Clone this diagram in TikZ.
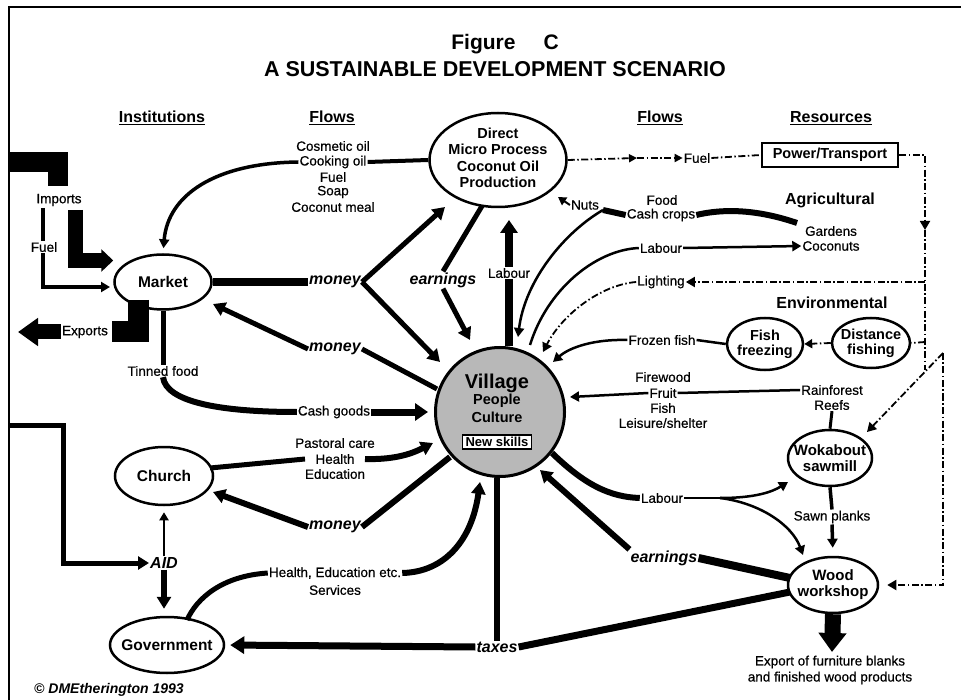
\documentclass[tikz,border=0pt]{standalone}
\usepackage{fontspec}
\setmainfont{Liberation Sans}
\newfontfamily\semib{Liberation Sans}[FakeBold=0.5]
\usetikzlibrary{arrows.meta,shapes.geometric}
\begin{document}
\begin{tikzpicture}[x=1pt,y=-1pt,
 every node/.style={inner sep=1pt},
 flow/.style={font=\semib\fontsize{13.5}{15.5}\selectfont, align=center},
 hd/.style={font=\bfseries\fontsize{16}{18}\selectfont},
 nd/.style={draw, ellipse, line width=2.5pt, inner sep=0pt},
 nt/.style={font=\bfseries\fontsize{15.5}{16.5}\selectfont, align=center},
 itl/.style={font=\bfseries\itshape\fontsize{16}{18}\selectfont},
 tS/.style={-{Triangle[length=9pt,width=10pt]}},
 tM/.style={-{Triangle[length=12pt,width=14pt]}},
 dd/.style={line width=1.8pt, dash pattern=on 7pt off 2.5pt on 1.5pt off 2.5pt}
]
\useasboundingbox (0,0) rectangle (961,700);
\fill[white] (0,0) rectangle (961,700);
\draw[line width=2.5pt] (9,700) -- (9,7) -- (961,7);

% ---------- titles and headings
\node[font=\bfseries\fontsize{21}{24}\selectfont] (t1) at (505,44) {Figure\hspace{28pt}C};
\node[font=\bfseries\fontsize{21.5}{24}\selectfont] (t2) at (495,69) {A SUSTAINABLE DEVELOPMENT SCENARIO};
\node[hd] (hInst) at (162,118) {\underline{Institutions}};
\node[hd] (hFl1) at (332,118) {\underline{Flows}};
\node[hd] (hFl2) at (660,118) {\underline{Flows}};
\node[hd] (hRes) at (831,118) {\underline{Resources}};
\node[hd] (agri) at (830,200) {Agricultural};
\node[hd] (env) at (832,303) {Environmental};

% ---------- ellipse nodes
\node[nd, minimum width=97, minimum height=55] (market) at (163,282) {};
\node[nt] (marketT) at (163,282) {Market};
\node[nd, minimum width=137, minimum height=94] (direct) at (498,160) {};
\node[nt, font=\bfseries\fontsize{14.5}{16.5}\selectfont] (directT) at (498,158) {Direct\\Micro Process\\Coconut Oil\\Production};
\node[nd, minimum width=98, minimum height=58] (church) at (164,476) {};
\node[nt] (churchT) at (164,476) {Church};
\node[nd, minimum width=114, minimum height=56] (gov) at (167,645) {};
\node[nt] (govT) at (167,645) {Government};
\node[nd, minimum width=76, minimum height=52] (fishfr) at (765,344) {};
\node[nt, font=\bfseries\fontsize{14.5}{15}\selectfont] (fishfrT) at (765,344) {Fish\\freezing};
\node[nd, minimum width=78, minimum height=50] (distf) at (871,343) {};
\node[nt, font=\bfseries\fontsize{14.5}{15}\selectfont] (distfT) at (871,343) {Distance\\fishing};
\node[nd, minimum width=84, minimum height=56] (wok) at (830,458) {};
\node[nt, font=\bfseries\fontsize{15}{16}\selectfont] (wokT) at (830,458) {Wokabout\\sawmill};
\node[nd, minimum width=90, minimum height=56] (wood) at (833,585) {};
\node[nt, font=\bfseries\fontsize{15}{16}\selectfont] (woodT) at (833,585) {Wood\\workshop};
\node[draw, line width=2.5pt, minimum width=136, minimum height=24, font=\bfseries\fontsize{14.5}{15}\selectfont] (power) at (830,155) {Power/Transport};

% ---------- village
\node[circle, draw, line width=3pt, fill=black!28, minimum size=129, inner sep=0pt] (village) at (500,412) {};
\node[font=\bfseries\fontsize{20}{21}\selectfont] (vT) at (497,383) {Village};
\node[font=\bfseries\fontsize{14.5}{15}\selectfont] (vP) at (497,401) {People};
\node[font=\bfseries\fontsize{14.5}{15}\selectfont] (vC) at (497,417) {Culture};
\node[draw, line width=1.5pt, fill=white, font=\bfseries\fontsize{13}{14}\selectfont, inner xsep=3pt, inner ysep=2pt] (vN) at (497,442) {New skills};

% ---------- flow labels
\node[flow] (cosm) at (333,146) {Cosmetic oil};
\node[flow] (cook) at (333,162) {Cooking oil};
\node[flow] (fuelA) at (333,177) {Fuel};
\node[flow] (soap) at (333,192) {Soap};
\node[flow] (meal) at (333,207) {Coconut meal};
\node[flow] (imports) at (59,200) {Imports};
\node[flow] (fuelL) at (44,247) {Fuel};
\node[flow] (exports) at (85,332) {Exports};
\node[flow] (tinned) at (163,371) {Tinned food};
\node[flow] (cash) at (334,412) {Cash goods};
\node[flow] (pastoral) at (335,443) {Pastoral care};
\node[flow] (health) at (335,459) {Health};
\node[flow] (educ) at (335,474) {Education};
\node[flow] (hes) at (335,573) {Health, Education etc.};
\node[flow] (serv) at (335,590) {Services};
\node[flow] (labourC) at (509,273) {Labour};
\node[flow] (nuts) at (585,205) {Nuts};
\node[flow] (food) at (662,200) {Food};
\node[flow] (cashcr) at (661,215) {Cash crops};
\node[flow] (labourR) at (661,248) {Labour};
\node[flow] (lighting) at (661,282) {Lighting};
\node[flow] (frozen) at (662,340) {Frozen fish};
\node[flow] (firewood) at (663,377) {Firewood};
\node[flow] (fruit) at (663,393) {Fruit};
\node[flow] (fish) at (663,408) {Fish};
\node[flow] (leisure) at (663,423) {Leisure/shelter};
\node[flow] (fuelR) at (697,158) {Fuel};
\node[flow] (gardens) at (831,231) {Gardens};
\node[flow] (coconuts) at (831,246) {Coconuts};
\node[flow] (rainf) at (832,390) {Rainforest};
\node[flow] (reefs) at (832,405) {Reefs};
\node[flow] (sawn) at (832,517) {Sawn planks};
\node[flow] (labourL) at (662,498) {Labour};
\node[flow] (exp1) at (830,662) {Export of furniture blanks};
\node[flow] (exp2) at (830,678) {and finished wood products};

\node[itl] (money1) at (335,282) {money};
\node[itl] (money2) at (335,349) {money};
\node[itl] (money3) at (335,527) {money};
\node[itl] (earn1) at (443,280) {earnings};
\node[itl] (earn2) at (664,558) {earnings};
\node[itl] (taxes) at (497,647) {taxes};
\node[itl] (aid) at (164,563) {AID};
\node[font=\bfseries\itshape\fontsize{14}{16}\selectfont, anchor=west] (copy) at (33,690) {© DMEtherington 1993};

% ---------- named free ends
\coordinate (impStart) at (9,162);
\coordinate (aidStart) at (9,425);
\coordinate (tipDirA) at (445,207);
\coordinate (tipVilA) at (440,362);
\coordinate (vilM2) at (437,389);
\coordinate (tipMktM2) at (213,304);
\coordinate (earnTop) at (482,206);
\coordinate (tipVilE) at (470,340);
\coordinate (tipDirL) at (509,220);
\coordinate (tipCash) at (428,412);
\coordinate (chE) at (210,468);
\coordinate (pstL) at (305,459);
\coordinate (pstR) at (365,459);
\coordinate (tipPast) at (433,443);
\coordinate (vilM3) at (450,457);
\coordinate (tipChM3) at (213,492);
\coordinate (govNE) at (187,620);
\coordinate (tipHES) at (480,482);
\coordinate (woodSW) at (790,592);
\coordinate (woodW) at (790,578);
\coordinate (tipVilE2) at (540,470);
\coordinate (vilLL) at (552,453);
\coordinate (lbSplit) at (720,498);
\coordinate (tipWok) at (788,482);
\coordinate (tipWood) at (803,555);
\coordinate (expTip) at (832,652);
\coordinate (tipVilF) at (570,397);
\coordinate (tipVilFr) at (553,362);
\coordinate (rtLight) at (925,282);
\coordinate (tipVilL) at (543,352);
\coordinate (vilLR) at (530,345);
\coordinate (gardNW) at (797,223);
\coordinate (foodJ) at (603,210);
\coordinate (tipVilFood) at (518,337);
\coordinate (tipNuts) at (558,197);
\coordinate (fuelMid) at (637,158);
\coordinate (rtArrow) at (925,230);
\coordinate (rtEnd) at (925,370);
\coordinate (rtDist) at (925,342);
\coordinate (rt2Top) at (943,353);
\coordinate (tipWokD) at (867,432);

% ---------- imports / fuel / exports
\draw[line width=20pt] (impStart) -- (58,162) -- (58,186);
\draw[line width=15pt, -{Triangle[length=12pt,width=22pt]}] (75.5,210) -- (75.5,260.5) -- (market.west |- 0,260.5);
\draw[line width=3.5pt] (43,208) -- (fuelL.north -| 43,0);
\draw[line width=3.5pt, tS] (fuelL.south -| 43,0) -- (43,287) -- (110,287);
\draw[line width=21pt] (138,300) -- (138,332) -- (112,332);
\draw[line width=15pt, -{Triangle[length=20pt,width=27pt]}] (exports.west) -- (18,332);

% ---------- coconut oil to market
\draw[line width=4pt] (direct.west) -- (cook.east);
\draw[line width=3.5pt, tS, shorten >=5pt] (cook.west) .. controls (215,163) and (168,195) .. (market.north);

% ---------- money / market / village
\draw[line width=8pt] (market.east) -- (money1.west);
\draw[line width=5pt, tM] (money1.east) -- (tipDirA);
\draw[line width=5pt, tM] (money1.east) -- (tipVilA);
\draw[line width=5pt] (vilM2) -- (money2.east);
\draw[line width=5pt, tM] (money2.west) -- (tipMktM2);

% ---------- earnings / labour to coconut oil
\draw[line width=5pt] (earnTop) -- (earn1.north);
\draw[line width=5pt, tM] (earn1.south) -- (tipVilE);
\draw[line width=8pt] (labourC |- village.north) -- (labourC.south);
\draw[line width=8pt, -{Triangle[length=13pt,width=17pt]}] (labourC.north) -- (tipDirL);

% ---------- tinned food / cash goods
\draw[line width=5pt] (market.south) -- (tinned.north);
\draw[line width=6pt] (tinned.south) .. controls (166,402) and (220,412) .. (cash.west);
\draw[line width=7pt, -{Triangle[length=13pt,width=17pt]}] (cash.east) -- (tipCash);

% ---------- church
\draw[line width=5pt] (chE) -- (pstL);
\draw[line width=6pt, tM] (pstR) .. controls (398,460) and (415,452) .. (tipPast);
\draw[line width=6pt] (vilM3) -- (money3.east);
\draw[line width=6pt, tM] (money3.west) -- (tipChM3);

% ---------- government
\draw[line width=5pt] (govNE) .. controls (197,598) and (222,576) .. (hes.west);
\draw[line width=6pt, tM] (hes.east) .. controls (445,572) and (472,540) .. (tipHES);
\draw[line width=5pt, -{Triangle[length=11pt,width=13pt]}] (aidStart) -- (63,425) -- (63,563) -- (aid.west);
\draw[line width=2.5pt, -{Triangle[length=8pt,width=9pt]}, shorten >=6pt] (aid.north) -- (church.south);
\draw[line width=6pt, tM, shorten >=7pt] (aid.south) -- (aid.south |- gov.north);

% ---------- taxes / earnings from workshop
\draw[line width=6pt] (taxes.north |- village.south) -- (taxes.north);
\draw[line width=7pt] (woodSW) -- (taxes.east);
\draw[line width=7pt, -{Triangle[length=14pt,width=17pt]}, shorten >=5pt] (taxes.west) -- (gov.east);
\draw[line width=8pt] (woodW) -- (earn2.east);
\draw[line width=6pt, tM] (earn2.north west) -- (tipVilE2);

% ---------- labour to sawmill / workshop
\draw[line width=6pt] (vilLL) .. controls (585,485) and (610,497) .. (labourL.west);
\draw[line width=2.5pt] (labourL.east) -- (lbSplit);
\draw[line width=2.5pt, tS] (lbSplit) .. controls (755,498) and (772,492) .. (tipWok);
\draw[line width=2.5pt, tS] (lbSplit) .. controls (760,503) and (792,525) .. (tipWood);
\draw[line width=3.5pt] (wok.south) -- (sawn.north);
\draw[line width=3.5pt, tS, shorten >=8pt] (sawn.south) -- (wood.north);
\draw[line width=16pt, -{Triangle[length=19pt,width=27pt]}] (wood.south) -- (expTip);
\draw[line width=3pt] (reefs.south) -- (wok.north);

% ---------- resources to village
\draw[line width=2.5pt] (rainf.west) -- (fruit.east);
\draw[line width=2.5pt, tS] (fruit.west) -- (tipVilF);
\draw[line width=2.5pt] (fishfr.west) -- (frozen.east);
\draw[line width=2.5pt, tS] (frozen.west) .. controls (595,339) and (570,347) .. (tipVilFr);
\draw[dd, -{Triangle[length=8pt,width=9pt]}] (distf.west) -- (fishfr.east);
\draw[dd, tS] (rtLight) -- (lighting.east);
\draw[dd, tS] (lighting.west) .. controls (600,285) and (562,315) .. (tipVilL);
\draw[line width=2.5pt, tS] (labourR.east) -- (coconuts.west);
\draw[line width=2.5pt] (labourR.west) .. controls (595,250) and (547,290) .. (vilLR);
\draw[line width=6pt] (gardNW) .. controls (765,212) and (730,207) .. (cashcr.east);
\draw[line width=6pt] (cashcr.west) -- (foodJ);
\draw[line width=2.5pt, tS] (foodJ) .. controls (565,232) and (525,280) .. (tipVilFood);
\draw[line width=2pt, -{Triangle[length=8pt,width=9pt]}] (nuts.west) -- (tipNuts);

% ---------- fuel / power transport
\draw[dd, -{Triangle[length=8pt,width=8pt]}] (direct.east) -- (fuelMid);
\draw[dd, -{Triangle[length=8pt,width=8pt]}] (fuelMid) -- (fuelR.west);
\draw[dd] (fuelR.east) -- (power.west);
\draw[dd, tS] (power.east) -- (925,155) -- (rtArrow);
\draw[dd] (rtArrow) -- (rtEnd);
\draw[dd] (rtDist) -- (distf.east);
\draw[dd, tS, shorten >=8pt] (rt2Top) -- (943,585) -- (wood.east |- 0,585);
\draw[dd, tS] (rt2Top) -- (tipWokD);
\end{tikzpicture}
\end{document}
